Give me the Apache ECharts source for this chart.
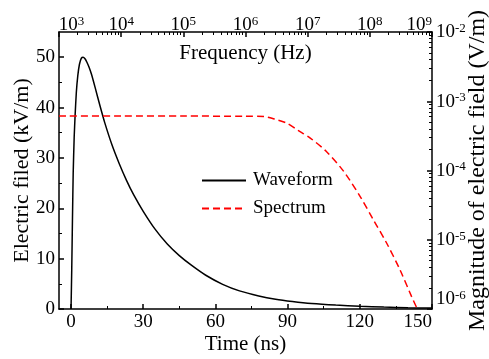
<!DOCTYPE html>
<html>
<head>
<meta charset="utf-8">
<script src="https://cdn.jsdelivr.net/npm/echarts@6/dist/echarts.min.js"></script>
<style>
  html, body { margin: 0; padding: 0; background: #fff; }
  #chart { width: 489px; height: 359px; }
</style>
</head>
<body>
<div id="chart"></div>
<script>
// waveform, time domain (ns -> kV/m)
const timeNs = [0, 0.3, 0.6, 0.9, 1.3, 1.7, 2.2, 2.8, 3.5, 4.3, 5.0, 5.8, 6.6, 7.5, 8.5, 10, 12, 14, 17, 20, 23, 26, 30, 35, 40, 45, 50, 56, 63, 70, 78, 85, 92, 100, 110, 120, 130, 140, 150];
const fieldKV = [0, 8, 18, 27, 34, 38.5, 43, 46.3, 48.6, 49.8, 50, 49.7, 49, 48, 46.6, 44, 40.4, 37, 32.6, 28.9, 25.6, 22.7, 19.4, 15.8, 12.9, 10.6, 8.7, 6.7, 4.9, 3.6, 2.6, 1.95, 1.5, 1.1, 0.78, 0.55, 0.38, 0.26, 0.18];

// spectrum (Hz -> V/m)
const freqHz = [1e3, 1e4, 1e5, 1e6, 2e6, 3e6, 4.6e6, 7e6, 1.1e7, 2e7, 3.8e7, 7e7, 1.14e8, 1.87e8, 3.06e8, 4.7e8, 5.8e8];
const magnitude = [6.1e-4, 6.1e-4, 6.1e-4, 6.08e-4, 6.0e-4, 5.5e-4, 4.84e-4, 3.8e-4, 2.94e-4, 1.88e-4, 9.7e-5, 4.2e-5, 1.94e-5, 8.9e-6, 3.67e-6, 1.51e-6, 1.0e-6];

const timeTicks = [0, 30, 60, 90, 120, 150];
const timeMinorTicks = [15, 45, 75, 105, 135];
const fieldTicks = [0, 10, 20, 30, 40, 50];
const fieldMinorTicks = [5, 15, 25, 35, 45];
const freqDecades = [3, 4, 5, 6, 7, 8];
const magDecades = [-6, -5, -4, -3];
const legendNames = ['Waveform', 'Spectrum'];

const FONT = '"Liberation Serif", "Times New Roman", serif';
const BLACK = '#000';

// log minor ticks (2..9 of each decade), in log space for the helper grid
const logMinor = (decades) => {
  const out = [];
  decades.forEach((d) => {
    for (let k = 2; k <= 9; k++) out.push(d + Math.log10(k));
  });
  return out;
};

const pow10Label = (v) => '{b|10}{s|' + Math.round(Math.log10(v)) + '}';
// first top label starts at the axis corner
const topLabel = (v) => (Math.round(Math.log10(v)) === 3 ? '{pad| }' : '') + pow10Label(v);
const powRich = {
  b: { fontFamily: FONT, fontSize: 19, color: BLACK, lineHeight: 20, verticalAlign: 'bottom' },
  s: { fontFamily: FONT, fontSize: 13, color: BLACK, verticalAlign: 'top' },
  pad: { fontSize: 13, width: 25 },
};

const lineAxis = { show: true, onZero: false, lineStyle: { color: BLACK, width: 1.5 } };
const noLine = { show: false, onZero: false };
const majorTick = { show: true, inside: true, length: 5, lineStyle: { color: BLACK, width: 1.5 } };
const minorTick = { show: true, inside: true, length: 3, lineStyle: { color: BLACK, width: 1 } };
const plainLabel = { fontFamily: FONT, fontSize: 19, color: BLACK };
const nameStyle = { fontFamily: FONT, fontSize: 21, color: BLACK };

const gridBox = { left: 59, right: 57, top: 32, bottom: 50, containLabel: false, outerBoundsMode: 'none' };

const chart = echarts.init(document.getElementById('chart'));
chart.setOption({
  animation: false,
  backgroundColor: '#fff',
  textStyle: { fontFamily: FONT },
  grid: [gridBox, gridBox],
  legend: {
    data: legendNames,
    orient: 'vertical',
    left: 196,
    top: 166,
    itemWidth: 44,
    itemHeight: 14,
    itemGap: 9,
    itemStyle: { opacity: 0 },
    textStyle: { fontFamily: FONT, fontSize: 19, color: BLACK, padding: [0, 0, 0, 2] },
  },
  xAxis: [
    {
      gridIndex: 0, type: 'value', position: 'bottom', min: -5, max: 150,
      name: 'Time (ns)', nameLocation: 'middle', nameGap: 25, nameMoveOverlap: false, nameTextStyle: nameStyle,
      axisLine: lineAxis,
      axisTick: Object.assign({ customValues: timeTicks }, majorTick),
      axisLabel: Object.assign({ customValues: timeTicks, margin: 4, alignMaxLabel: 'right' }, plainLabel),
      splitLine: { show: false },
    },
    {
      gridIndex: 0, type: 'log', logBase: 10, position: 'top', min: 1e3, max: 1e9,
      name: 'Frequency (Hz)', nameLocation: 'middle', nameGap: -32, nameMoveOverlap: false, nameTextStyle: nameStyle,
      axisLine: lineAxis,
      axisTick: majorTick,
      axisLabel: { formatter: topLabel, rich: powRich, margin: -3, alignMaxLabel: 'right' },
      splitLine: { show: false },
    },
    {
      gridIndex: 1, type: 'value', position: 'bottom', min: -5, max: 150,
      axisLine: noLine,
      axisTick: Object.assign({ customValues: timeMinorTicks }, minorTick),
      axisLabel: { show: false },
      splitLine: { show: false },
    },
    {
      gridIndex: 1, type: 'value', position: 'top', min: 3, max: 9,
      axisLine: noLine,
      axisTick: Object.assign({ customValues: logMinor(freqDecades) }, minorTick),
      axisLabel: { show: false },
      splitLine: { show: false },
    },
  ],
  yAxis: [
    {
      gridIndex: 0, type: 'value', position: 'left', min: 0, max: 55,
      name: 'Electric filed (kV/m)', nameLocation: 'middle', nameGap: 26, nameRotate: 90, nameMoveOverlap: false,
      nameTextStyle: Object.assign({}, nameStyle, { fontSize: 22 }),
      axisLine: lineAxis,
      axisTick: Object.assign({ customValues: fieldTicks }, majorTick),
      axisLabel: Object.assign({ customValues: fieldTicks, margin: 4 }, plainLabel),
      splitLine: { show: false },
    },
    {
      gridIndex: 0, type: 'log', logBase: 10, position: 'right', min: 1e-6, max: 1e-2,
      name: 'Magnitude of electric field (V/m)', nameLocation: 'middle', nameGap: 34, nameRotate: 90, nameMoveOverlap: false,
      nameTextStyle: Object.assign({}, nameStyle, { fontSize: 24 }),
      axisLine: lineAxis,
      axisTick: majorTick,
      axisLabel: { formatter: pow10Label, rich: powRich, margin: 4, verticalAlignMinLabel: 'bottom', verticalAlignMaxLabel: 'top' },
      splitLine: { show: false },
    },
    {
      gridIndex: 1, type: 'value', position: 'left', min: 0, max: 55,
      axisLine: noLine,
      axisTick: Object.assign({ customValues: fieldMinorTicks }, minorTick),
      axisLabel: { show: false },
      splitLine: { show: false },
    },
    {
      gridIndex: 1, type: 'value', position: 'right', min: -6, max: -2,
      axisLine: noLine,
      axisTick: Object.assign({ customValues: logMinor(magDecades) }, minorTick),
      axisLabel: { show: false },
      splitLine: { show: false },
    },
  ],
  series: [
    {
      name: legendNames[0],
      type: 'line',
      xAxisIndex: 0,
      yAxisIndex: 0,
      data: timeNs.map((t, i) => [t, fieldKV[i]]),
      symbol: 'none',
      smooth: 0.2,
      lineStyle: { color: BLACK, width: 1.5 },
      itemStyle: { color: BLACK },
    },
    {
      name: legendNames[1],
      type: 'line',
      xAxisIndex: 1,
      yAxisIndex: 1,
      data: freqHz.map((f, i) => [f, magnitude[i]]),
      symbol: 'none',
      smooth: 0.3,
      lineStyle: { color: '#ff0000', width: 1.5, type: [7, 4] },
      itemStyle: { color: '#ff0000' },
    },
  ],
});
</script>
</body>
</html>
